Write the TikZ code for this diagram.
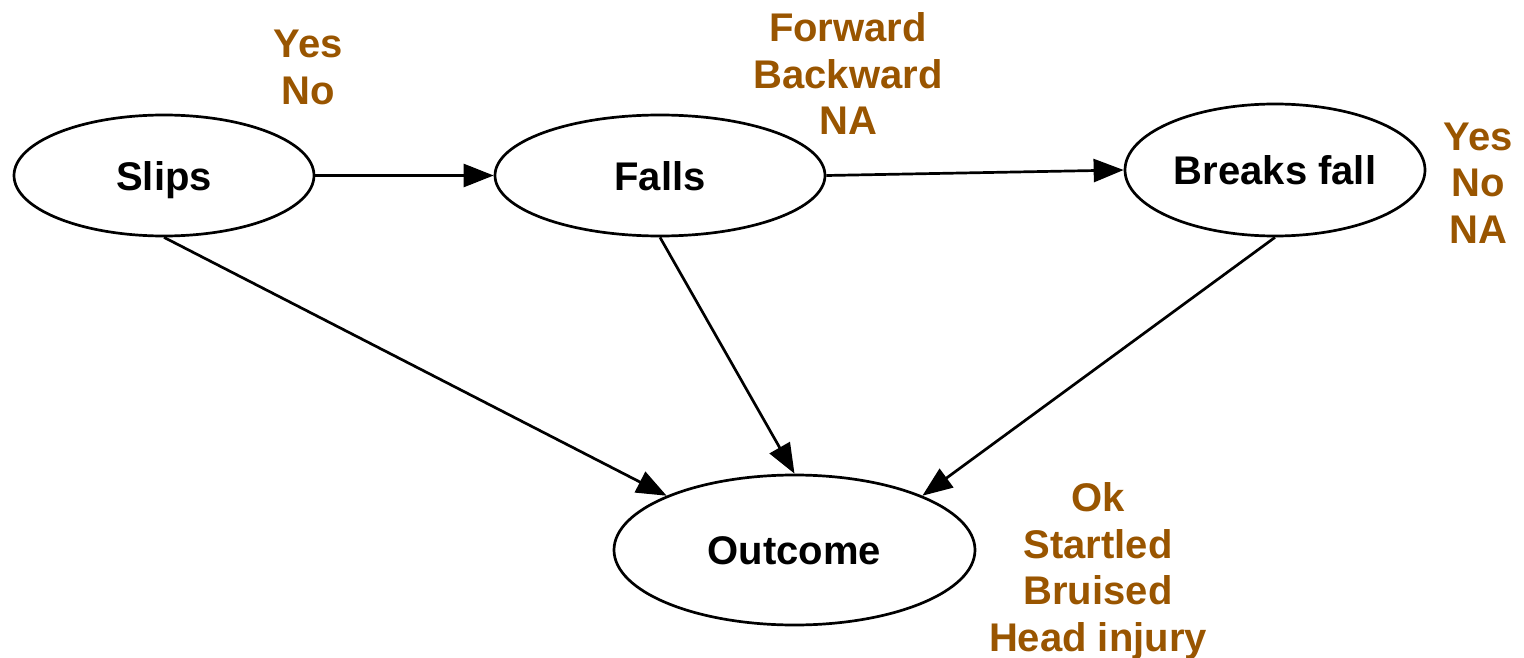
\documentclass[tikz,border=0pt]{standalone}
\usepackage{fontspec}
\setmainfont{Liberation Sans}
\usetikzlibrary{shapes.geometric,arrows.meta}
\definecolor{valbrown}{RGB}{153,85,0}
\begin{document}
\begin{tikzpicture}[x=1pt,y=-1pt,
  var/.style={ellipse,draw=black,line width=2.7pt,inner sep=0pt,
    text height=29pt,text depth=0pt,
    font=\fontsize{40}{46.5}\selectfont\bfseries},
  vals/.style={align=center,text=valbrown,inner sep=0pt,
    font=\fontsize{40}{46.5}\selectfont\bfseries},
  link/.style={draw=black,line width=2.7pt,-{Triangle[length=30pt,width=23pt]}}]
\useasboundingbox (0,0) rectangle (1524,658);

% variables
\node[var,minimum width=300pt,minimum height=121pt] (slips)   at (164,175.5) {Slips};
\node[var,minimum width=330pt,minimum height=121pt] (falls)   at (660,175.5) {Falls};
\node[var,minimum width=300pt,minimum height=132pt] (breaks)  at (1275,170)  {Breaks fall};
\node[var,minimum width=361pt,minimum height=150pt] (outcome) at (794.5,550) {Outcome};

% possible values of each variable
\node[vals] (slipsvals)   at (308,67.5)  {Yes\\No};
\node[vals] (fallsvals)   at (848,73.7)  {Forward\\Backward\\NA};
\node[vals] (breaksvals)  at (1478,183)  {Yes\\No\\NA};
\node[vals] (outcomevals) at (1098,571)  {Ok\\Startled\\Bruised\\Head injury};

% dependencies
\draw[link] (slips.east) -- (falls.west);
\draw[link] (falls.east) -- (breaks.west);
\draw[link] (slips.south) -- (outcome.157);
\draw[link] (falls.south) -- (outcome.north);
\draw[link] (breaks.south) -- (outcome.23);
\end{tikzpicture}
\end{document}
